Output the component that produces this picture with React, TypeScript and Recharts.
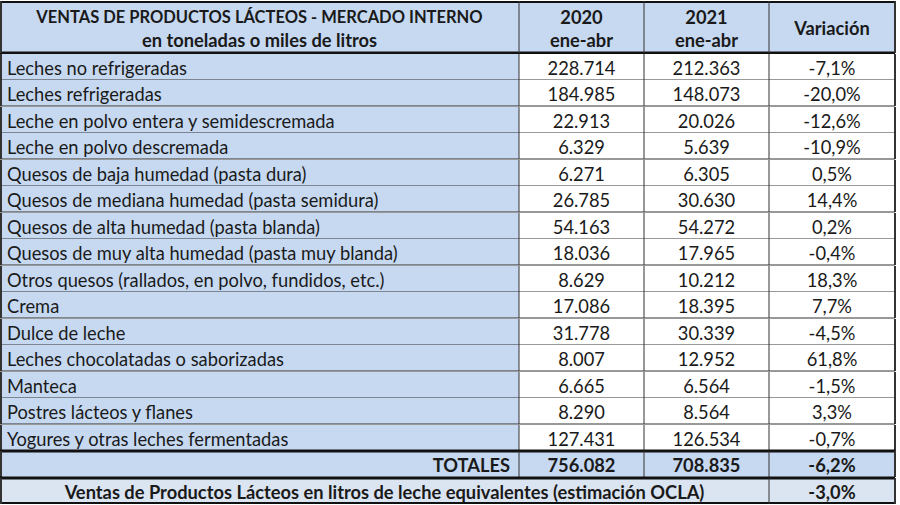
import React from "react";
import { BarChart, Bar, XAxis, YAxis } from "recharts";

// Ventas de productos lácteos - mercado interno (ene-abr)
const productos = [
  "Leches no refrigeradas",
  "Leches refrigeradas",
  "Leche en polvo entera y semidescremada",
  "Leche en polvo descremada",
  "Quesos de baja humedad (pasta dura)",
  "Quesos de mediana humedad (pasta semidura)",
  "Quesos de alta humedad (pasta blanda)",
  "Quesos de muy alta humedad (pasta muy blanda)",
  "Otros quesos (rallados, en polvo, fundidos, etc.)",
  "Crema",
  "Dulce de leche",
  "Leches chocolatadas o saborizadas",
  "Manteca",
  "Postres lácteos y flanes",
  "Yogures y otras leches fermentadas",
];
const ventas2020 = [228714, 184985, 22913, 6329, 6271, 26785, 54163, 18036, 8629, 17086, 31778, 8007, 6665, 8290, 127431];
const ventas2021 = [212363, 148073, 20026, 5639, 6305, 30630, 54272, 17965, 10212, 18395, 30339, 12952, 6564, 8564, 126534];
const variacion = [-7.1, -20.0, -12.6, -10.9, 0.5, 14.4, 0.2, -0.4, 18.3, 7.7, -4.5, 61.8, -1.5, 3.3, -0.7];

const totalLabel = "TOTALES";
const totales = [756082, 708835];
const variacionTotal = -6.2;

const finalLabel = "Ventas de Productos Lácteos en litros de leche equivalentes (estimación OCLA)";
const variacionLecheEq = -3.0;

const headerTitle = "VENTAS DE PRODUCTOS LÁCTEOS - MERCADO INTERNO";
const headerSub = "en toneladas o miles de litros";
const years = ["2020", "2021"];
const period = "ene-abr";
const varLabel = "Variación";

// layout / style
const EDGES = [0, 519, 644, 769, 895]; // column borders, in table px
const TABLE_W = 895;
const BLUE = "#c6d9f1";
const LIGHT = "#dbe5f1";
const INK = "#1a1a1a";
const LINE = "#333";
const FONT = "Lato, 'Open Sans', sans-serif";
const FS = 18.3;

const fmtMiles = (n: number) => String(n).replace(/\B(?=(\d{3})+(?!\d))/g, ".");
const fmtPct = (v: number) => v.toFixed(1).replace(".", ",") + "%";

const rows = [
  { key: "h1", kind: "h1", span: 1 },
  { key: "h2", kind: "h2", span: 1 },
  ...productos.map((p, i) => ({
    key: p,
    kind: "data",
    label: p,
    a: fmtMiles(ventas2020[i]),
    b: fmtMiles(ventas2021[i]),
    c: fmtPct(variacion[i]),
    span: 1,
  })),
  {
    key: totalLabel,
    kind: "total",
    label: totalLabel,
    a: fmtMiles(totales[0]),
    b: fmtMiles(totales[1]),
    c: fmtPct(variacionTotal),
    span: 1,
  },
  { key: "final", kind: "final", label: finalLabel, c: fmtPct(variacionLecheEq), span: 1 },
];

function RowShape(props: any) {
  const { x, y, width, height, payload } = props;
  const top = Math.round(y);
  const bot = Math.round(y + height);
  const ex = EDGES.map((e) => Math.round(x + (width * e) / TABLE_W));
  const mid = (top + bot) / 2 + 1;
  const cx = (i: number) => (ex[i] + ex[i + 1]) / 2;
  const kind = payload.kind;
  const txt = (tx: number, ty: number, s: string, anchor = "middle", bold = false, fs = FS) => (
    <text
      x={tx}
      y={ty}
      textAnchor={anchor}
      dominantBaseline="central"
      fontFamily={FONT}
      fontSize={fs}
      fontWeight={bold ? 700 : 400}
      fill={INK}
    >
      {s}
    </text>
  );
  const vline = (xx: number, w = 1) => <line x1={xx} x2={xx} y1={top} y2={bot} stroke={LINE} strokeWidth={w} />;
  const hline = (yy: number, w = 1, x1 = ex[0], x2 = ex[4]) => (
    <line x1={x1} x2={x2} y1={yy} y2={yy} stroke={w > 1 ? "#111" : LINE} strokeWidth={w} />
  );

  if (kind === "h1" || kind === "h2") {
    return (
      <g>
        <rect x={ex[0]} y={top} width={ex[4] - ex[0]} height={bot - top} fill={BLUE} />
        {kind === "h1" ? (
          <>
            {txt(cx(0), mid + 2, headerTitle, "middle", true, 16.5)}
            {txt(cx(1), mid + 2, years[0], "middle", true)}
            {txt(cx(2), mid + 2, years[1], "middle", true)}
            {hline(top + 1, 2)}
          </>
        ) : (
          <>
            {txt(cx(0), mid - 1, headerSub, "middle", true)}
            {txt(cx(1), mid - 1, period, "middle", true)}
            {txt(cx(2), mid - 1, period, "middle", true)}
            {txt(cx(3), top + 1, varLabel, "middle", true)}
            {hline(bot, 3)}
          </>
        )}
        {vline(ex[0] + 1, 2)}
        {vline(ex[1])}
        {vline(ex[2])}
        {vline(ex[3])}
        {vline(ex[4], 2)}
      </g>
    );
  }

  if (kind === "final") {
    return (
      <g>
        <rect x={ex[0]} y={top} width={ex[4] - ex[0]} height={bot - top} fill={LIGHT} />
        {txt((ex[0] + ex[3]) / 2, mid, payload.label, "middle", true)}
        {txt(cx(3), mid, payload.c, "middle", true)}
        {hline(top, 3)}
        {hline(bot - 1, 2)}
        {vline(ex[0] + 1, 2)}
        {vline(ex[3])}
        {vline(ex[4], 2)}
      </g>
    );
  }

  const isTotal = kind === "total";
  return (
    <g>
      <rect x={ex[0]} y={top} width={ex[1] - ex[0]} height={bot - top} fill={BLUE} />
      <rect x={ex[1]} y={top} width={ex[4] - ex[1]} height={bot - top} fill={isTotal ? BLUE : "#fff"} />
      {isTotal
        ? txt(ex[1] - 9, mid, payload.label, "end", true)
        : txt(ex[0] + 7, mid, payload.label, "start")}
      {txt(cx(1), mid, payload.a, "middle", isTotal)}
      {txt(cx(2), mid, payload.b, "middle", isTotal)}
      {txt(cx(3), mid, payload.c, "middle", isTotal)}
      {isTotal ? hline(top, 3) : null}
      {!isTotal ? hline(bot) : null}
      {vline(ex[0] + 1, 2)}
      {vline(ex[1])}
      {vline(ex[2])}
      {vline(ex[3])}
      {vline(ex[4], 2)}
    </g>
  );
}

export default function App() {
  return (
    <div style={{ position: "absolute", left: 0, top: 0, width: 900, height: 505, background: "#fff" }}>
      <BarChart
        layout="vertical"
        width={900}
        height={505}
        data={rows}
        margin={{ top: 1, right: 5, bottom: 1, left: 0 }}
        barCategoryGap={0}
      >
        <XAxis type="number" domain={[0, 1]} hide />
        <YAxis type="category" dataKey="key" hide />
        <Bar dataKey="span" shape={<RowShape />} isAnimationActive={false} />
      </BarChart>
    </div>
  );
}
